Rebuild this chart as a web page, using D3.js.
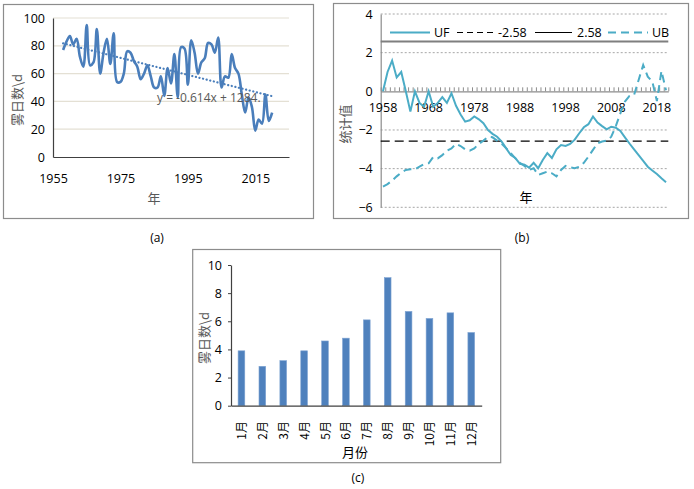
<!DOCTYPE html>
<html><head><meta charset="utf-8">
<script src="https://cdn.jsdelivr.net/npm/d3@7"></script>
<style>
body{margin:0;background:#fff;}
text{font-family:"Open Sans","Noto Sans","Noto Sans CJK SC",sans-serif;}
.cjk{font-family:"Noto Sans CJK SC",sans-serif;}
</style></head>
<body><svg id="c" width="694" height="489"></svg>
<script>
const years = [1958,1959,1960,1961,1962,1963,1964,1965,1966,1967,1968,1969,1970,1971,1972,1973,1974,1975,1976,1977,1978,1979,1980,1981,1982,1983,1984,1985,1986,1987,1988,1989,1990,1991,1992,1993,1994,1995,1996,1997,1998,1999,2000,2001,2002,2003,2004,2005,2006,2007,2008,2009,2010,2011,2012,2013,2014,2015,2016,2017,2018,2019,2020];
const fogDays = [77,83,87,81,85,72,65,95,66,68,92,60,75,85,67,89,54,54,60,76,75,69,65,56,60,66,58,50,50,58,44,64,53,74,43,79,78,52,84,75,60,68,71,82,81,75,86,50,58,57,74,64,60,45,32,43,36,19,27,24,45,26,32];
const trendSlope = -0.614, trendIntercept = 1284;
const trendLabel = "y = -0.614x + 1284.";
const yearTicksA = [1955,1975,1995,2015];
const fogTicksA = [0,20,40,60,80,100];

const UF = [0,1.0,1.59,0.72,1.0,0.0,-1.05,0.0,-0.6,-0.8,0.0,-0.8,-0.6,-0.3,-0.6,-0.1,-0.75,-1.2,-1.57,-1.5,-1.3,-1.45,-1.65,-2.0,-2.2,-2.35,-2.6,-2.95,-3.3,-3.45,-3.75,-3.8,-3.95,-3.7,-3.98,-3.55,-3.2,-3.45,-3.0,-2.78,-2.83,-2.72,-2.5,-2.17,-1.86,-1.7,-1.3,-1.62,-1.8,-1.97,-1.83,-1.88,-2.05,-2.38,-2.7,-3.0,-3.3,-3.6,-3.9,-4.1,-4.28,-4.5,-4.7];
const UB = [-4.93,-4.8,-4.62,-4.4,-4.2,-4.07,-4.03,-4.03,-3.9,-3.76,-3.72,-3.4,-3.47,-3.3,-3.07,-2.95,-2.72,-2.83,-3.0,-3.07,-2.95,-2.72,-2.55,-2.35,-2.38,-2.55,-2.72,-2.95,-3.2,-3.47,-3.7,-3.86,-4.07,-3.98,-4.33,-4.24,-4.15,-4.24,-4.4,-4.07,-3.86,-3.93,-3.98,-3.9,-3.7,-3.38,-3.03,-2.69,-2.6,-2.55,-2.35,-1.8,-1.14,-0.53,-0.24,-0.19,0.59,1.36,0.76,0.5,-0.5,1.05,0.05];
const critLow = -2.58, critHigh = 2.58;
const yearTicksB = [1958,1968,1978,1988,1998,2008,2018];
const statTicksB = [4,2,0,-2,-4,-6];

const months = ["1月","2月","3月","4月","5月","6月","7月","8月","9月","10月","11月","12月"];
const monthFog = [3.9,2.8,3.2,3.9,4.6,4.8,6.1,9.1,6.7,6.2,6.6,5.2];
const fogTicksC = [0,2,4,6,8,10];

const svg = d3.select("#c");
svg.append("rect").attr("width",694).attr("height",489).attr("fill","#fff");
const grayText = "#595959";

function frame(x0,y0,x1,y1){
  svg.append("rect").attr("x",x0).attr("y",y0).attr("width",x1-x0).attr("height",y1-y0)
    .attr("fill","none").attr("stroke","#8c8c8c").attr("stroke-width",1.2);
}

/* ---------- Panel (a) ---------- */
frame(3.5,4.5,313.5,218.5);
{
  const x = d3.scaleLinear().domain([1955,2025]).range([53,289]);
  const y = d3.scaleLinear().domain([0,100]).range([157,18]);
  const g = svg.append("g");
  g.selectAll("line.grid").data(fogTicksA.filter(d=>d>0)).join("line")
    .attr("x1",53).attr("x2",289).attr("y1",d=>y(d)).attr("y2",d=>y(d))
    .attr("stroke","#e4e0d4").attr("stroke-width",1.2);
  const ya = g.append("g").attr("transform","translate(53,0)")
    .call(d3.axisLeft(y).tickValues(fogTicksA).tickSize(0).tickPadding(8));
  ya.select(".domain").attr("stroke","#404040").attr("stroke-width",1.2);
  ya.selectAll("text").attr("font-size",12.5).attr("fill","#000");
  const xa = g.append("g").attr("transform","translate(0,157)")
    .call(d3.axisBottom(x).tickValues(yearTicksA).tickFormat(d3.format("d")).tickSize(0).tickPadding(17));
  xa.select(".domain").attr("stroke","#404040").attr("stroke-width",1.2);
  xa.selectAll("text").attr("font-size",12.5).attr("fill","#000");
  // data line
  g.append("path").datum(years.map((yr,i)=>[yr,fogDays[i]]))
    .attr("d",d3.line().x(d=>x(d[0])).y(d=>y(d[1])).curve(d3.curveCatmullRom.alpha(0.5)))
    .attr("fill","none").attr("stroke","#4a7ebb").attr("stroke-width",2.6);
  // trend line
  const t0 = years[0], t1 = years[years.length-1];
  g.append("line").attr("x1",x(t0)).attr("x2",x(t1))
    .attr("y1",y(trendSlope*t0+trendIntercept)).attr("y2",y(trendSlope*t1+trendIntercept))
    .attr("stroke","#4a7ebb").attr("stroke-width",2.2).attr("stroke-linecap","round")
    .attr("stroke-dasharray","0.1,3.6");
  g.append("text").attr("x",157).attr("y",102).attr("font-size",12).attr("fill",grayText).text(trendLabel);
  g.append("text").attr("class","cjk").attr("x",154).attr("y",203).attr("text-anchor","middle")
    .attr("font-size",13).attr("fill",grayText).text("年");
  g.append("text").attr("class","cjk").attr("transform","translate(22,100) rotate(-90)")
    .attr("text-anchor","middle").attr("font-size",13).attr("fill",grayText).text("雾日数\\d");
}
svg.append("text").attr("x",157).attr("y",242).attr("text-anchor","middle").attr("font-size",12).attr("fill","#000").text("(a)");

/* ---------- Panel (b) ---------- */
frame(333.5,3.5,688.5,218.5);
{
  const L = 380.7, R = 668.3;
  const x = d3.scaleBand().domain(years).range([L,R]).padding(0);
  const xi = d3.scaleLinear().domain([0,years.length]).range([L,R]);
  const y = d3.scaleLinear().domain([-6,4]).range([207.3,14]);
  const g = svg.append("g");
  g.selectAll("line.grid").data(statTicksB.filter(d=>d!==0)).join("line")
    .attr("x1",L).attr("x2",R).attr("y1",d=>y(d)).attr("y2",d=>y(d))
    .attr("stroke","#a6a6a6").attr("stroke-width",1).attr("stroke-dasharray","2,2");
  const ya = g.append("g").attr("transform",`translate(${L},0)`)
    .call(d3.axisLeft(y).tickValues(statTicksB).tickSize(0).tickPadding(8));
  ya.select(".domain").attr("stroke","#8c8c8c").attr("stroke-width",1.2);
  ya.selectAll("text").attr("font-size",12.5).attr("fill","#000");
  // x axis at 0 with boundary ticks pointing up
  const xa = g.append("g").attr("transform",`translate(0,${y(0)})`)
    .call(d3.axisTop(xi).tickValues(d3.range(0,years.length+1)).tickSizeInner(4).tickSizeOuter(0).tickFormat(""));
  xa.select(".domain").attr("stroke","#8c8c8c").attr("stroke-width",1.2);
  xa.selectAll(".tick line").attr("stroke","#8c8c8c");
  const xl = g.append("g").attr("transform",`translate(0,${y(0)})`)
    .call(d3.axisBottom(x).tickValues(yearTicksB).tickSize(0).tickPadding(12));
  xl.select(".domain").remove();
  xl.selectAll("text").attr("font-size",12.5).attr("fill","#000");
  // critical lines
  g.append("line").attr("x1",L).attr("x2",R).attr("y1",y(critHigh)).attr("y2",y(critHigh))
    .attr("stroke","#7f7f7f").attr("stroke-width",2);
  g.append("line").attr("x1",L).attr("x2",R).attr("y1",y(critLow)).attr("y2",y(critLow))
    .attr("stroke","#000").attr("stroke-width",1.2).attr("stroke-dasharray","9,5");
  const line = d3.line().x((d,i)=>x(years[i])+x.bandwidth()/2).y(d=>y(d));
  g.append("path").datum(UF).attr("d",line).attr("fill","none").attr("stroke","#4bacc6").attr("stroke-width",2);
  g.append("path").datum(UB).attr("d",line).attr("fill","none").attr("stroke","#4bacc6").attr("stroke-width",2)
    .attr("stroke-dasharray","8,5");
  // legend
  const leg = [
    {name:"UF",x1:390,x2:430,tx:434,stroke:"#4bacc6",w:2,dash:null},
    {name:"-2.58",x1:457,x2:494,tx:498,stroke:"#000",w:1.2,dash:"6,4"},
    {name:"2.58",x1:535,x2:572,tx:577,stroke:"#000",w:1,dash:null},
    {name:"UB",x1:608,x2:648,tx:652,stroke:"#4bacc6",w:2,dash:"8,5"}
  ];
  const ly = 32.5;
  leg.forEach(d=>{
    g.append("line").attr("x1",d.x1).attr("x2",d.x2).attr("y1",ly).attr("y2",ly)
      .attr("stroke",d.stroke).attr("stroke-width",d.w).attr("stroke-dasharray",d.dash);
    g.append("text").attr("x",d.tx).attr("y",ly+4.5).attr("font-size",12.5).attr("fill","#000").text(d.name);
  });
  g.append("text").attr("class","cjk").attr("x",526).attr("y",202).attr("text-anchor","middle")
    .attr("font-size",13).attr("fill","#000").text("年");
  g.append("text").attr("class","cjk").attr("transform","translate(350,124) rotate(-90)")
    .attr("text-anchor","middle").attr("font-size",13).attr("fill",grayText).text("统计值");
}
svg.append("text").attr("x",522).attr("y",242).attr("text-anchor","middle").attr("font-size",12).attr("fill","#000").text("(b)");

/* ---------- Panel (c) ---------- */
frame(192.7,249.5,500.7,462.7);
{
  const x = d3.scaleBand().domain(months).range([231,481.7]).paddingInner(0.68).paddingOuter(0.34);
  const y = d3.scaleLinear().domain([0,10]).range([405.7,265]);
  const g = svg.append("g");
  g.selectAll("rect.bar").data(months).join("rect")
    .attr("x",d=>x(d)).attr("width",x.bandwidth())
    .attr("y",(d,i)=>y(monthFog[i])).attr("height",(d,i)=>y(0)-y(monthFog[i]))
    .attr("fill","#4f81bd").attr("stroke","#7ea3d2").attr("stroke-width",0.6);
  const ya = g.append("g").attr("transform","translate(231,0)")
    .call(d3.axisLeft(y).tickValues(fogTicksC).tickSizeInner(3).tickSizeOuter(0).tickPadding(6));
  ya.select(".domain").attr("stroke","#404040").attr("stroke-width",1.2);
  ya.selectAll(".tick line").attr("stroke","#404040");
  ya.selectAll("text").attr("font-size",12.5).attr("fill","#000");
  const xa = g.append("g").attr("transform","translate(0,405.7)")
    .call(d3.axisBottom(x).tickSize(0).tickFormat(""));
  xa.select(".domain").attr("stroke","#404040").attr("stroke-width",1.2);
  g.selectAll("text.mlab").data(months).join("text").attr("class","cjk")
    .attr("transform",d=>`translate(${x(d)+x.bandwidth()/2+4.5},421) rotate(-90)`)
    .attr("text-anchor","end").attr("font-size",12).attr("fill","#000").text(d=>d);
  g.append("text").attr("class","cjk").attr("x",355).attr("y",457).attr("text-anchor","middle")
    .attr("font-size",13).attr("fill","#000").text("月份");
  g.append("text").attr("class","cjk").attr("transform","translate(209,338) rotate(-90)")
    .attr("text-anchor","middle").attr("font-size",13).attr("fill",grayText).text("雾日数\\d");
}
svg.append("text").attr("x",358).attr("y",482).attr("text-anchor","middle").attr("font-size",12).attr("fill","#000").text("(c)");
</script></body></html>
